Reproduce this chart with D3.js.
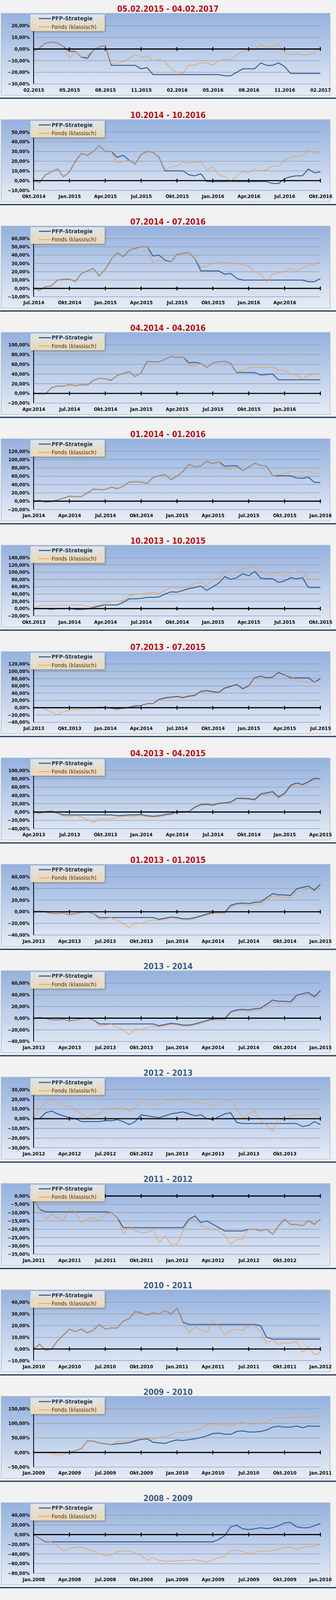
<!DOCTYPE html>
<html><head><meta charset="utf-8">
<script src="https://cdn.jsdelivr.net/npm/d3@7"></script>
<style>
html,body{margin:0;padding:0;background:#f2f2f2;overflow:hidden;height:100%;}
svg{display:block;width:100vw;height:100vh;font-family:"Liberation Sans Narrow","DejaVu Sans Condensed",sans-serif;}
</style></head><body>
<svg id="c" viewBox="0 0 860 4232" preserveAspectRatio="none"></svg>
<script>
const titles=["05.02.2015 - 04.02.2017","10.2014 - 10.2016","07.2014 - 07.2016","04.2014 - 04.2016","01.2014 - 01.2016","10.2013 - 10.2015","07.2013 - 07.2015","04.2013 - 04.2015","01.2013 - 01.2015","2013 - 2014","2012 - 2013","2011 - 2012","2010 - 2011","2009 - 2010","2008 - 2009"];
const titleColors=["red","red","red","red","red","red","red","red","red","blue","blue","blue","blue","blue","blue"];
const xLabels=[
["02.2015","05.2015","08.2015","11.2015","02.2016","05.2016","08.2016","11.2016","02.2017"],
["Okt.2014","Jan.2015","Apr.2015","Jul.2015","Okt.2015","Jan.2016","Apr.2016","Jul.2016","Okt.2016"],
["Jul.2014","Okt.2014","Jan.2015","Apr.2015","Jul.2015","Okt.2015","Jan.2016","Apr.2016",""],
["Apr.2014","Jul.2014","Okt.2014","Jan.2015","Apr.2015","Jul.2015","Okt.2015","Jan.2016",""],
["Jan.2014","Apr.2014","Jul.2014","Okt.2014","Jan.2015","Apr.2015","Jul.2015","Okt.2015","Jan.2016"],
["Okt.2013","Jan.2014","Apr.2014","Jul.2014","Okt.2014","Jan.2015","Apr.2015","Jul.2015","Okt.2015"],
["Jul.2013","Okt.2013","Jan.2014","Apr.2014","Jul.2014","Okt.2014","Jan.2015","Apr.2015","Jul.2015"],
["Apr.2013","Jul.2013","Okt.2013","Jan.2014","Apr.2014","Jul.2014","Okt.2014","Jan.2015","Apr.2015"],
["Jan.2013","Apr.2013","Jul.2013","Okt.2013","Jan.2014","Apr.2014","Jul.2014","Okt.2014","Jan.2015"],
["Jan.2013","Apr.2013","Jul.2013","Okt.2013","Jan.2014","Apr.2014","Jul.2014","Okt.2014","Jan.2015"],
["Jan.2012","Apr.2012","Jul.2012","Okt.2012","Jan.2013","Apr.2013","Jul.2013","Okt.2013",""],
["Jan.2011","Apr.2011","Jul.2011","Okt.2011","Jan.2012","Apr.2012","Jul.2012","Okt.2012",""],
["Jan.2010","Apr.2010","Jul.2010","Okt.2010","Jan.2011","Apr.2011","Jul.2011","Okt.2011","Jan.2012"],
["Jan.2009","Apr.2009","Jul.2009","Okt.2009","Jan.2010","Apr.2010","Jul.2010","Okt.2010","Jan.2011"],
["Jan.2008","Apr.2008","Jul.2008","Okt.2008","Jan.2009","Apr.2009","Jul.2009","Okt.2009","Jan.2010"]];
const yMin=[-30,-10,-10,-20,-20,-20,-40,-40,-40,-40,-30,-35,-10,-50,-80];
const yMax=[20,50,60,100,120,140,120,100,60,60,30,0,40,150,40];
const yStep=[10,10,10,20,20,20,20,20,20,20,10,5,10,50,20];

const pfp1=[-2,1,5,6,5,2,-2,-2,-7,-8,-1,2,3,-14,-14,-14,-14,-14,-17,-16,-22,-22,-22,-22,-22,-22,-22,-22,-22,-22,-22,-22,-23,-23,-20,-17,-17,-17,-12,-14,-14,-12,-15,-21,-21,-21,-21,-21,-21];
const fonds1=[-2,1,5,6,5,2,-8,-2,-7,-6,-1,2,3,-13,-12,-11,-8,-5,-7,-6,-10,-9,-11,-17,-20,-21,-14,-14,-12,-12,-14,-10,-9,-9,-5,-2,-1,-1,4,1,2,4,-3,-5,-4,-5,-5,-3,3];
const pfp2=[0,-2,6,9,12,4,9,20,28,26,30,36,30,30,24,26,21,17,27,30,29,24,10,10,10,10,6,5,7,-1,-1,-1,-1,-1,-1,-1,-1,-1,-1,-1,-3,-3,2,4,5,5,12,8,9];
const fonds2=[0,-2,6,9,12,4,9,20,28,26,30,36,30,30,18,20,21,17,27,30,29,24,11,14,15,19,18,19,19,11,14,6,4,-1,5,9,8,12,10,11,15,15,21,24,25,26,32,28,29];
const pfp3=[0,-2,2,3,10,11,11,8,18,21,24,15,23,35,43,38,46,48,50,50,39,40,34,32,41,42,43,36,21,21,21,21,17,18,12,10,10,10,10,10,10,10,10,10,10,10,8,8,12];
const fonds3=[0,-2,2,3,10,11,11,8,18,21,24,15,23,35,43,38,46,48,50,50,31,34,32,32,41,42,43,36,25,27,30,32,31,31,30,28,27,20,17,8,17,19,20,24,21,24,28,28,32];
const pfp4=[0,-1,-1,12,15,15,18,16,18,17,27,31,30,27,37,41,45,35,42,66,65,65,70,76,74,75,63,64,62,53,63,65,66,62,43,43,43,43,38,39,40,28,28,28,28,28,28,28,28];
const fonds4=[0,-1,-1,12,15,15,18,16,18,17,27,31,30,27,37,41,45,35,42,66,65,65,70,76,74,75,57,57,62,53,63,65,66,62,44,48,52,55,54,54,54,48,48,40,38,29,38,40,41];
const pfp5=[0,2,-2,-1,3,7,12,11,11,20,29,28,28,34,30,36,46,47,46,43,57,61,64,52,60,72,88,83,85,96,90,95,84,85,85,73,82,91,86,84,61,61,61,61,56,55,58,45,45];
const fonds5=[0,2,-2,-1,3,7,12,11,11,20,29,28,28,34,30,36,46,47,46,43,57,61,64,52,60,72,88,83,85,96,90,95,76,78,83,73,82,91,86,84,60,64,66,72,74,70,73,65,69];
const pfp6=[0,0,0,-2,0,0,1,-2,-2,-1,3,7,10,10,10,17,27,27,28,31,31,32,40,46,45,50,55,58,62,50,60,70,88,80,85,96,90,102,84,82,82,72,76,85,82,85,58,58,58];
const fonds6=[0,7,9,8,9,9,9,10,10,6,6,10,15,20,20,22,36,39,40,43,44,42,50,60,58,56,60,69,73,62,80,84,103,99,102,110,112,118,102,92,97,96,88,100,100,102,82,79,82];
const pfp7=[0,0,0,0,0,0,0,0,0,0,0,1,1,-2,-3,-2,1,5,6,11,11,23,27,29,31,28,32,34,45,47,44,42,54,59,64,52,60,82,87,82,84,97,90,82,82,82,82,70,80];
const fonds7=[0,0,-4,-12,-20,-11,-8,-5,-4,-2,-2,-1,0,-3,-5,-3,0,3,5,10,10,21,25,27,29,26,30,32,43,45,42,40,52,57,62,50,58,80,85,80,82,95,88,90,72,72,70,70,75];
const pfp8=[0,-3,1,3,-3,-7,-7,-7,-7,-7,-7,-7,-7,-7,-9,-8,-7,-7,-6,-9,-10,-9,-6,-4,1,1,1,12,18,19,17,21,22,24,33,33,32,30,43,46,49,36,45,64,70,66,73,81,80];
const fonds8=[0,-3,1,3,-3,-11,-11,-8,-12,-18,-25,-16,-17,-16,-13,-10,-11,-10,-9,-11,-12,-12,-9,-7,-1,-1,0,10,16,17,15,19,20,22,30,31,30,28,40,43,46,33,42,60,66,63,70,78,73];
const pfp9=[0,1,0,-3,-3,-2,-5,-3,-1,0,-3,-10,-10,-10,-10,-10,-10,-10,-10,-10,-10,-13,-11,-9,-10,-12,-12,-10,-7,-4,-1,-1,-1,11,14,15,14,16,17,24,31,29,29,28,39,42,44,37,47];
const fonds9=[0,1,0,-3,-3,-2,-5,-3,-1,0,-3,-13,-12,-10,-15,-20,-28,-19,-20,-16,-14,-15,-13,-11,-12,-14,-14,-12,-9,-6,-3,-3,-4,9,12,13,11,13,14,20,27,26,25,24,35,37,39,34,40];
const pfp11=[0,0,6,8,5,3,1,0,-3,-3,-3,-3,-2,-2,-1,-3,-6,-3,4,3,2,1,3,5,6,7,5,3,4,0,-1,2,5,6,-4,-5,-5,-5,-5,-5,-5,-5,-5,-5,-5,-8,-7,-3,-6];
const fonds11=[0,10,17,20,16,13,13,9,5,1,4,5,11,10,11,12,8,11,19,15,15,14,19,19,19,21,18,16,17,15,14,15,18,19,10,1,5,8,-2,-7,-13,0,-2,3,4,4,4,6,3];
const pfp12=[-1,-8,-9.5,-9.5,-9.5,-9.5,-9.5,-9.5,-9.5,-9.5,-9.5,-9.5,-9.5,-10,-13,-19,-19,-19,-19,-19,-19,-19,-19,-19,-19,-19,-14,-12,-16,-15,-17,-19,-21,-21,-21,-21,-20,-20,-21,-20,-23,-18,-14,-17,-17,-18,-15,-17,-14];
const fonds12=[-1,-8,-14,-11,-13,-15,-7,-10,-16,-14,-13,-15,-11,-10,-13,-23,-18,-21,-22,-22,-20,-28,-24,-29,-29,-21,-15,-14,-18,-19,-20,-21,-24,-29,-26,-26,-20,-20,-21,-20,-23,-18,-14,-17,-17,-18,-15,-17,-14];
const pfp13=[0,4,-1,0,7,12,17,15,17,14,16,21,17,18,18,24,26,32,31,29,31,30,33,30,35,23,21,21,21,21,21,21,21,21,21,21,21,21,20,10,8.5,8.5,8.5,8.5,8.5,8.5,8.5,8.5,8.5];
const fonds13=[0,4,-1,0,7,12,17,15,17,14,16,21,17,18,18,24,26,32,31,29,31,30,33,30,35,22,14,19,16,14,24,20,12,16,17,16,20,20,15,5,8,4,5,5,7,-3,2,-5,-3];
const pfp14=[0,0,0,0,0,0,0,6,13,40,39,33,30,27,30,31,34,40,45,47,35,33,31,38,43,41,44,47,51,57,65,66,63,62,72,74,70,70,72,77,87,90,87,87,91,85,91,90,90];
const fonds14=[0,-2,-1,-3,-9,-7,0,6,13,40,39,33,30,27,38,37,40,43,50,50,45,52,54,60,70,68,70,76,82,96,99,94,98,92,99,104,98,97,100,105,117,120,118,118,124,118,121,122,125];
const pfp15=[0,-8,-15,-15,-15,-15,-15,-15,-15,-15,-15,-15,-15,-15,-15,-15,-15,-15,-15,-15,-15,-15,-15,-15,-15,-15,-15,-15,-15,-15,-15,-10,-2,16,19,12,10,12,14,12,14,18,24,25,16,14,14,18,23];
const fonds15=[0,-8,-14,-15,-23,-34,-29,-26,-25,-30,-34,-40,-44,-42,-35,-34,-33,-38,-43,-53,-48,-53,-55,-55,-54,-54,-53,-52,-54,-57,-52,-48,-45,-33,-32,-35,-39,-36,-34,-35,-33,-30,-27,-26,-31,-27,-25,-24,-20];

const pfpSeries=[pfp1,pfp2,pfp3,pfp4,pfp5,pfp6,pfp7,pfp8,pfp9,pfp9,pfp11,pfp12,pfp13,pfp14,pfp15];
const fondsSeries=[fonds1,fonds2,fonds3,fonds4,fonds5,fonds6,fonds7,fonds8,fonds9,fonds9,fonds11,fonds12,fonds13,fonds14,fonds15];
const legendNames=["PFP-Strategie","Fonds (klassisch)"];

const svg=d3.select("#c");
const defs=svg.append("defs");
const bg=defs.append("linearGradient").attr("id","bg").attr("x1",0).attr("x2",0).attr("y1",0).attr("y2",1);
bg.append("stop").attr("offset","0%").attr("stop-color","#94b1de");
bg.append("stop").attr("offset","100%").attr("stop-color","#e6ecf6");
const lg=defs.append("linearGradient").attr("id","lg").attr("x1",0).attr("x2",0).attr("y1",0).attr("y2",1);
lg.append("stop").attr("offset","0%").attr("stop-color","#dfe3ea");
lg.append("stop").attr("offset","100%").attr("stop-color","#ead9b4");
const sh=defs.append("filter").attr("id","sh").attr("x","-10%").attr("y","-10%").attr("width","130%").attr("height","140%");
sh.append("feDropShadow").attr("dx",2).attr("dy",3).attr("stdDeviation",2).attr("flood-color","#555").attr("flood-opacity",0.45);

const PH=281.4, L=86, R=820;
const fmt=v=>d3.format(".2f")(v).replace(".",",")+"%";
const FF="Liberation Sans Narrow, DejaVu Sans Condensed, sans-serif";

titles.forEach((t,i)=>{
  const P=i*PH;
  const g=svg.append("g").attr("transform",`translate(0,${P})`);
  g.append("text").attr("x",430).attr("y",31).attr("text-anchor","middle")
    .attr("font-size",21).attr("font-weight","bold")
    .attr("fill",titleColors[i]==="red"?"#b5121b":"#3c5f8f").text(t);
  g.append("rect").attr("x",3).attr("y",35).attr("width",842).attr("height",217)
    .attr("fill","url(#bg)").attr("stroke","#b4bccb").attr("stroke-width",1.5);
  const y=d3.scaleLinear().domain([yMin[i],yMax[i]]).range([222,68]);
  const x=d3.scaleLinear().domain([0,pfpSeries[i].length-1]).range([L,R]);
  const ticks=d3.range(yMin[i],yMax[i]+yStep[i]/2,yStep[i]);
  g.selectAll(".gl").data(ticks).enter().append("line")
    .attr("x1",L).attr("x2",R).attr("y1",d=>y(d)).attr("y2",d=>y(d))
    .attr("stroke","#8d97aa").attr("stroke-width",1.3);
  const ya=d3.axisLeft(y).tickValues(ticks).tickFormat(fmt).tickSize(0).tickPadding(10);
  const yg=g.append("g").attr("transform",`translate(${L},0)`).call(ya);
  yg.select(".domain").remove();
  yg.selectAll("text").attr("font-size",12.5).attr("font-weight","bold").attr("fill","#111").attr("font-family",FF);
  g.append("line").attr("x1",L).attr("x2",L).attr("y1",46).attr("y2",222).attr("stroke","#000").attr("stroke-width",2);
  const xt=d3.scaleLinear().domain([0,8]).range([L,R]);
  const xa=d3.axisBottom(xt).tickValues(d3.range(9)).tickFormat(k=>xLabels[i][k]).tickSize(0);
  const xg=g.append("g").attr("transform",`translate(0,222)`).call(xa);
  xg.select(".domain").remove();
  xg.selectAll("text").attr("font-size",13).attr("font-weight","bold").attr("fill","#111").attr("dy","1.35em").attr("font-family",FF);
  const line=d3.line().x((d,k)=>x(k)).y(d=>y(d));
  g.append("path").datum(pfpSeries[i]).attr("d",line).attr("fill","none").attr("stroke","#3b6298").attr("stroke-width",2.6);
  g.append("path").datum(fondsSeries[i]).attr("d",line).attr("fill","none").attr("stroke","#f39a4c").attr("stroke-width",1.5);
  const y0=y(0);
  g.append("line").attr("x1",L).attr("x2",R).attr("y1",y0).attr("y2",y0).attr("stroke","#000").attr("stroke-width",3);
  g.selectAll(".tk").data(d3.range(9)).enter().append("line")
    .attr("x1",k=>xt(k)).attr("x2",k=>xt(k)).attr("y1",y0-5).attr("y2",y0+5).attr("stroke","#000").attr("stroke-width",2.5);
  const lgG=g.append("g");
  lgG.append("rect").attr("x",78).attr("y",38).attr("width",190).attr("height",44).attr("fill","url(#lg)").attr("filter","url(#sh)");
  legendNames.forEach((n,k)=>{
    const yy=49+k*22;
    lgG.append("line").attr("x1",99).attr("x2",130).attr("y1",yy).attr("y2",yy)
      .attr("stroke",k?"#f39a4c":"#3b6298").attr("stroke-width",k?1.8:3);
    lgG.append("text").attr("x",132).attr("y",yy+5).attr("font-size",15).attr("font-family",FF)
      .attr("font-weight",k?"normal":"bold").attr("fill",k?"#5a2d0c":"#1f3a64").text(n);
  });
  g.append("rect").attr("x",0).attr("y",258).attr("width",860).attr("height",3.5).attr("fill","#2b4467");
});
</script></body></html>
